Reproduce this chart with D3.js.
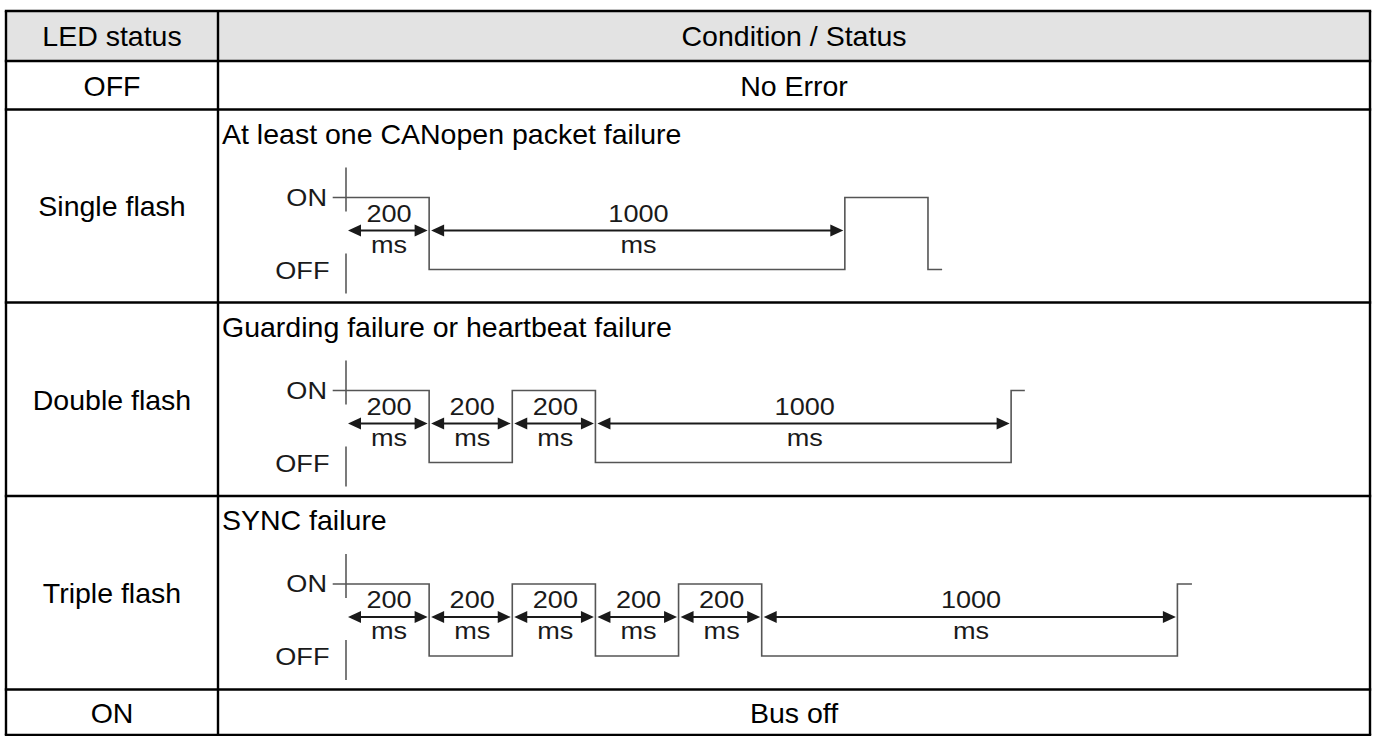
<!DOCTYPE html>
<html>
<head>
<meta charset="utf-8">
<script src="https://cdn.jsdelivr.net/npm/d3@7/dist/d3.min.js"></script>
<style>
  html, body { margin: 0; padding: 0; background: #fff; }
  svg { display: block; }
  text { font-family: "Liberation Sans", Arial, sans-serif; }
</style>
</head>
<body>
<svg id="chart" width="1373" height="736"></svg>
<script>
// ---------- data ----------
const ledStatus = ["LED status", "OFF", "Single flash", "Double flash", "Triple flash", "ON"];
const conditions = ["Condition / Status", "No Error", "At least one CANopen packet failure",
  "Guarding failure or heartbeat failure", "SYNC failure", "Bus off"];
const rowTops = [11, 61, 109.5, 302.5, 496, 689.5, 735];   // table row boundaries

// timing diagrams (ms): edge times of the LED trace, start level ON
const singleEdges = [200, 1200, 1400];
const doubleEdges = [200, 400, 600, 1600];
const tripleEdges = [200, 400, 600, 800, 1000, 2000];
const traceEnds = [1434, 1633, 2035];
const traceStart = -32;
// dimensioned intervals (ms)
const singleIntervals = [200, 1000];
const doubleIntervals = [200, 200, 200, 1000];
const tripleIntervals = [200, 200, 200, 200, 200, 1000];
const levelLabels = ["ON", "OFF"];
const unitLabel = "ms";

// ---------- layout ----------
const svg = d3.select("#chart");
const left = 6, right = 1370, colX = 218;
const fs = 28.5;

// header fill
svg.append("rect").attr("x", left).attr("y", rowTops[0])
  .attr("width", right - left).attr("height", rowTops[1] - rowTops[0])
  .attr("fill", "#e3e3e3");

const tx = d3.scaleLinear().domain([0, 2000]).range([346, 1177.4]);

// texts
ledStatus.forEach((s, i) => {
  const y0 = rowTops[i], y1 = rowTops[i + 1];
  svg.append("text").attr("x", (left + colX) / 2).attr("y", (y0 + y1) / 2 + fs * 0.36)
    .attr("text-anchor", "middle").attr("font-size", fs).attr("fill", "#000").text(s);
});
conditions.forEach((s, i) => {
  const y0 = rowTops[i], y1 = rowTops[i + 1];
  const diagram = i >= 2 && i <= 4;
  svg.append("text")
    .attr("x", diagram ? 222 : (colX + right) / 2)
    .attr("y", diagram ? y0 + 34 : (y0 + y1) / 2 + fs * 0.36)
    .attr("text-anchor", diagram ? "start" : "middle")
    .attr("font-size", fs).attr("fill", "#000").text(s);
});

// diagram drawing
const dfs = 24, stretch = 1.13;
function stxt(g, x, y, s, anchor) {
  g.append("text").attr("transform", `translate(${x},${y}) scale(${stretch},1)`)
    .attr("text-anchor", anchor).attr("font-size", dfs).attr("fill", "#1a1a1a").text(s);
}

function drawDiagram(T, edges, endT, intervals) {
  const g = svg.append("g");
  const ly = d3.scaleLinear().domain([0, 1]).range([T + 160, T + 88]);
  const ax = tx(0);
  // axis
  g.append("line").attr("x1", ax).attr("x2", ax).attr("y1", T + 58).attr("y2", T + 102)
    .attr("stroke", "#333").attr("stroke-width", 1.3);
  g.append("line").attr("x1", ax).attr("x2", ax).attr("y1", T + 144).attr("y2", T + 184)
    .attr("stroke", "#333").attr("stroke-width", 1.3);
  stxt(g, 327, T + 96, levelLabels[0], "end");
  stxt(g, 329.5, T + 169, levelLabels[1], "end");
  // trace
  const pts = [[traceStart, 1]];
  let lvl = 1;
  edges.forEach(t => { pts.push([t, lvl]); lvl = 1 - lvl; pts.push([t, lvl]); });
  pts.push([endT, lvl]);
  g.append("path").attr("d", d3.line().x(d => tx(d[0])).y(d => ly(d[1]))(pts))
    .attr("fill", "none").attr("stroke", "#555").attr("stroke-width", 1.6);
  // dimension arrows
  const ay = T + 121;
  let t0 = 0;
  intervals.forEach(dur => {
    const x0 = tx(t0) + 2, x1 = tx(t0 + dur) - 1.5;
    const ah = 13, aw = 6;
    g.append("line").attr("x1", x0 + ah - 2).attr("x2", x1 - ah + 2).attr("y1", ay).attr("y2", ay)
      .attr("stroke", "#1a1a1a").attr("stroke-width", 2.2);
    g.append("path").attr("d", `M${x0},${ay}L${x0 + ah},${ay - aw}L${x0 + ah},${ay + aw}Z`).attr("fill", "#1a1a1a");
    g.append("path").attr("d", `M${x1},${ay}L${x1 - ah},${ay - aw}L${x1 - ah},${ay + aw}Z`).attr("fill", "#1a1a1a");
    const cx = (tx(t0) + tx(t0 + dur)) / 2 + 1.5;
    stxt(g, cx, T + 112, String(dur), "middle");
    stxt(g, cx, T + 143, unitLabel, "middle");
    t0 += dur;
  });
}
drawDiagram(rowTops[2], singleEdges, traceEnds[0], singleIntervals);
drawDiagram(rowTops[3], doubleEdges, traceEnds[1], doubleIntervals);
drawDiagram(rowTops[4], tripleEdges, traceEnds[2], tripleIntervals);

// grid lines
const grid = svg.append("g").attr("stroke", "#000").attr("stroke-width", 2.4).attr("fill", "none");
rowTops.forEach(y => grid.append("line").attr("x1", left - 1.2).attr("x2", right + 1.2).attr("y1", y).attr("y2", y));
[left, colX, right].forEach(x => grid.append("line").attr("x1", x).attr("x2", x)
  .attr("y1", rowTops[0]).attr("y2", rowTops[rowTops.length - 1]));
</script>
</body>
</html>
